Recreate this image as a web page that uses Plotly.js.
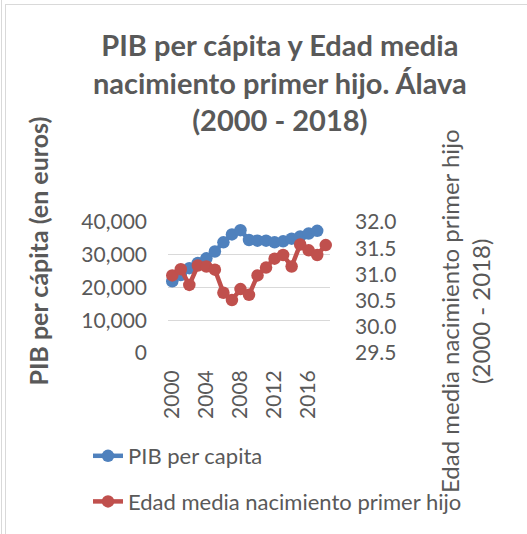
<!DOCTYPE html>
<html>
<head>
<meta charset="utf-8">
<script src="https://cdn.plot.ly/plotly-3.0.1.min.js"></script>
<style>
  body { margin: 0; background: #fff; }
  #wrap { position: relative; width: 527px; height: 534px; overflow: hidden; }
  #outer { position: absolute; left: 1px; top: 0; width: 1px; height: 534px; background: #d9d9d9; }
  #frame { position: absolute; left: 5px; top: 4px; width: 522px; height: 530px;
           border-left: 1px solid #d9d9d9; border-top: 1px solid #d9d9d9; }
  #chart { position: absolute; left: 0; top: 0; width: 527px; height: 534px; }
</style>
</head>
<body>
<div id="wrap">
  <div id="outer"></div>
  <div id="frame"></div>
  <div id="chart"></div>
</div>
<script>
// years on the category axis
let years = ['2000','2001','2002','2003','2004','2005','2006','2007','2008','2009',
             '2010','2011','2012','2013','2014','2015','2016','2017','2018'];
let yearTicks = ['2000','2004','2008','2012','2016'];

// PIB per capita (euros); no value for 2018
let pib = [21900,23800,25900,27500,28900,31000,33800,36200,37500,34500,
           34300,34300,33800,34100,34900,35600,36500,37300,null];

// Edad media nacimiento primer hijo (years)
let edad = [30.98,31.10,30.80,31.17,31.15,31.09,30.65,30.51,30.72,30.61,
            30.98,31.13,31.30,31.37,31.15,31.57,31.46,31.37,31.56];

const fnt = 'Lato, "Open Sans", sans-serif';
const grey = '#595959';

let traces = [
  {
    x: years, y: pib, name: 'PIB per capita', type: 'scatter', mode: 'lines+markers',
    line: {color: '#4f81bd', width: 4.5}, marker: {color: '#4f81bd', size: 12.5},
    legendgroup: 'a', cliponaxis: false
  },
  {
    x: years, y: edad, name: 'Edad media nacimiento primer hijo', type: 'scatter',
    mode: 'lines+markers', yaxis: 'y2',
    line: {color: '#c0504d', width: 4.5}, marker: {color: '#c0504d', size: 12.5},
    legendgroup: 'b', cliponaxis: false
  }
];

let layout = {
  width: 527, height: 534, autosize: false,
  margin: {l: 168, r: 197, t: 222, b: 181, autoexpand: false},
  paper_bgcolor: 'rgba(0,0,0,0)', plot_bgcolor: 'rgba(0,0,0,0)',
  font: {family: fnt, color: grey, size: 21},
  title: {
    text: '<b>PIB per cápita y Edad media<br>nacimiento primer hijo. Álava<br>(2000 - 2018)</b>',
    font: {family: fnt, size: 29, color: grey},
    xref: 'container', x: 0.531, xanchor: 'center',
    yref: 'container', y: 1 - 56/534, yanchor: 'middle'
  },
  xaxis: {
    type: 'category', range: [-0.5, 18.5], tickmode: 'array', tickvals: yearTicks, ticktext: yearTicks,
    tickangle: -90, showgrid: false, zeroline: false, showline: false, ticks: '',
    tickfont: {size: 21, color: grey}, automargin: false, ticklabelstandoff: 12
  },
  yaxis: {
    range: [0, 40000], dtick: 10000, tickformat: ',d', showgrid: true,
    gridcolor: '#d9d9d9', gridwidth: 1, zeroline: false, showline: false, ticks: '',
    tickfont: {size: 21, color: grey}, automargin: false, ticklabelstandoff: 20
  },
  yaxis2: {
    overlaying: 'y', side: 'right', range: [29.5, 32.0], dtick: 0.5, tickformat: '.1f',
    showgrid: false, zeroline: false, showline: false, ticks: '',
    tickfont: {size: 21, color: grey}, automargin: false, ticklabelstandoff: 24
  },
  showlegend: true,
  legend: {
    xref: 'container', yref: 'container', x: 0.167, y: 1 - 435/534,
    xanchor: 'left', yanchor: 'top', traceorder: 'grouped', tracegroupgap: 14,
    font: {family: fnt, size: 22, color: grey}, bgcolor: 'rgba(0,0,0,0)'
  },
  annotations: [
    {
      text: '<b>PIB per cápita (en euros)</b>', textangle: -90, showarrow: false,
      xref: 'paper', yref: 'paper', x: (38 - 168) / 162, y: (352.7 - 252) / 130,
      xanchor: 'center', yanchor: 'middle', font: {family: fnt, size: 25, color: grey}
    },
    {
      text: 'Edad media nacimiento primer hijo<br>(2000 - 2018)', textangle: -90, showarrow: false,
      xref: 'paper', yref: 'paper', x: (465 - 168) / 162, y: (352.7 - 312) / 130,
      xanchor: 'center', yanchor: 'middle', font: {family: fnt, size: 24, color: grey}
    }
  ]
};

Plotly.newPlot('chart', traces, layout, {displayModeBar: false, staticPlot: true});
</script>
</body>
</html>
